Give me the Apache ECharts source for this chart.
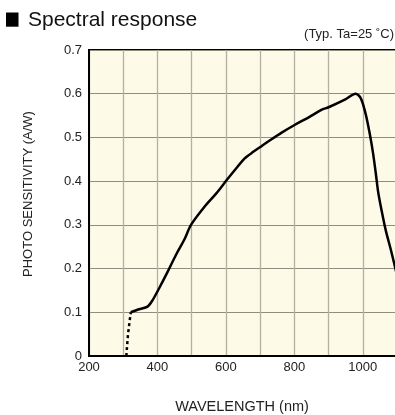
<!DOCTYPE html>
<html>
<head>
<meta charset="utf-8">
<script src="https://cdn.jsdelivr.net/npm/echarts@6/dist/echarts.min.js"></script>
<style>
  html, body { margin: 0; padding: 0; background: #ffffff; }
  #chart { width: 395px; height: 415px; }
</style>
</head>
<body>
<div id="chart"></div>
<script>
// Spectral response curve (typical, Ta = 25 °C)
const wavelength = [322, 346, 371, 386, 405, 430, 454, 479, 498, 538, 572, 603, 631, 655, 680, 704, 730, 763, 802, 842, 879, 900, 949, 979, 994, 1008, 1020, 1030, 1038, 1045, 1055, 1067, 1082, 1100];
const sensitivity = [0.100, 0.107, 0.113, 0.128, 0.155, 0.193, 0.231, 0.267, 0.300, 0.342, 0.372, 0.403, 0.430, 0.452, 0.467, 0.480, 0.494, 0.511, 0.529, 0.546, 0.563, 0.569, 0.587, 0.600, 0.590, 0.555, 0.510, 0.464, 0.418, 0.375, 0.333, 0.288, 0.243, 0.185];

// Short-wavelength cutoff, drawn dotted
const cutoffWavelength = [309, 314, 322];
const cutoffSensitivity = [0, 0.05, 0.100];

const xTickLabels = [200, 400, 600, 800, 1000];
const yTickLabels = ['0', '0.1', '0.2', '0.3', '0.4', '0.5', '0.6', '0.7'];

const FONT = '"Liberation Sans", Arial, sans-serif';

const chart = echarts.init(document.getElementById('chart'), null, { renderer: 'canvas' });

chart.setOption({
  animation: false,
  backgroundColor: '#ffffff',
  grid: {
    left: 89, top: 50, width: 308, height: 306,
    outerBoundsMode: 'none',
    containLabel: false,
    show: true,
    backgroundColor: '#fdfae7',
    borderColor: '#000000',
    borderWidth: 2
  },
  xAxis: {
    type: 'value',
    min: 200, max: 1100, interval: 100,
    axisLine: { show: true, lineStyle: { color: '#000', width: 2 } },
    axisTick: { show: false },
    axisLabel: {
      color: '#222', fontFamily: FONT, fontSize: 13, margin: 5,
      formatter: v => (xTickLabels.indexOf(v) >= 0 ? String(v) : '')
    },
    splitLine: { show: true, lineStyle: { color: '#b3b2a2', width: 1.3 } }
  },
  yAxis: {
    type: 'value',
    min: 0, max: 0.7, interval: 0.1,
    axisLine: { show: true, lineStyle: { color: '#000', width: 2 } },
    axisTick: { show: false },
    axisLabel: {
      color: '#222', fontFamily: FONT, fontSize: 13, margin: 7,
      formatter: v => yTickLabels[Math.round(v * 10)]
    },
    splitLine: { show: true, lineStyle: { color: '#8e8d80', width: 1.2 } }
  },
  graphic: [
    { type: 'rect', shape: { x: 6, y: 12.5, width: 12.5, height: 14.2 }, style: { fill: '#000' } },
    { type: 'text', x: 28, y: 20.5, style: { text: 'Spectral response', font: '21px ' + FONT, fill: '#111', textVerticalAlign: 'middle' } },
    { type: 'text', x: 394, y: 34, style: { text: '(Typ. Ta=25 ˚C)', font: '13px ' + FONT, fill: '#222', textAlign: 'right', textVerticalAlign: 'middle' } },
    { type: 'text', x: 28, y: 194, rotation: Math.PI / 2, style: { text: 'PHOTO SENSITIVITY (A/W)', font: '13px ' + FONT, fill: '#222', textAlign: 'center', textVerticalAlign: 'middle' } },
    { type: 'text', x: 242, y: 407, style: { text: 'WAVELENGTH (nm)', font: '14.5px ' + FONT, fill: '#222', textAlign: 'center', textVerticalAlign: 'middle' } }
  ],
  series: [
    {
      type: 'line',
      data: wavelength.map((w, i) => [w, sensitivity[i]]),
      showSymbol: false,
      smooth: 0.3,
      lineStyle: { color: '#000', width: 2.5 }
    },
    {
      type: 'line',
      data: cutoffWavelength.map((w, i) => [w, cutoffSensitivity[i]]),
      showSymbol: false,
      lineStyle: { color: '#000', width: 2.5, type: [3, 3] }
    }
  ]
});
</script>
</body>
</html>
